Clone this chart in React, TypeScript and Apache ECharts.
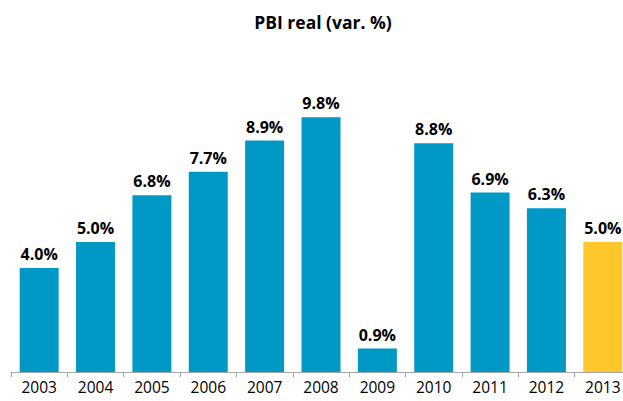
import React, { useEffect, useRef } from "react";
import * as echarts from "echarts";

const years = ["2003", "2004", "2005", "2006", "2007", "2008", "2009", "2010", "2011", "2012", "2013"];
const growth = [4.0, 5.0, 6.8, 7.7, 8.9, 9.8, 0.9, 8.8, 6.9, 6.3, 5.0];
const highlightYear = "2013";

const BLUE = "#0099C6";
const YELLOW = "#FFC72C";

export default function App() {
  const ref = useRef<HTMLDivElement>(null);
  useEffect(() => {
    const chart = echarts.init(ref.current!, undefined, { renderer: "svg" });
    chart.setOption({
      animation: false,
      title: {
        text: "PBI real (var. %)",
        left: 318,
        textAlign: "center",
        top: 8,
        textStyle: { fontFamily: "Open Sans", fontWeight: "bold", fontSize: 17.5, color: "#000" },
      },
      grid: { left: 11, top: 60, width: 620, height: 312, containLabel: false, outerBoundsMode: "none" },
      xAxis: {
        type: "category",
        data: years,
        axisLine: { lineStyle: { color: "#A6A6A6", width: 1 } },
        axisTick: { show: true, length: 5, lineStyle: { color: "#A6A6A6" } },
        axisLabel: { color: "#000", fontFamily: "Open Sans", fontSize: 15.5, margin: 7 },
      },
      yAxis: {
        type: "value",
        min: 0,
        max: 12,
        show: false,
        splitLine: { show: false },
      },
      series: [
        {
          type: "bar",
          barWidth: 39,
          data: growth.map((v, i) => ({
            value: v,
            itemStyle: { color: years[i] === highlightYear ? YELLOW : BLUE },
          })),
          label: {
            show: true,
            position: "top",
            distance: 6,
            formatter: (p: any) => p.value.toFixed(1) + "%",
            fontFamily: "Open Sans",
            fontWeight: "bold",
            fontSize: 16,
            color: "#000",
          },
        },
      ],
    });
    return () => chart.dispose();
  }, []);
  return <div ref={ref} style={{ width: 623, height: 401, position: "absolute", left: 0, top: 0 }} />;
}
